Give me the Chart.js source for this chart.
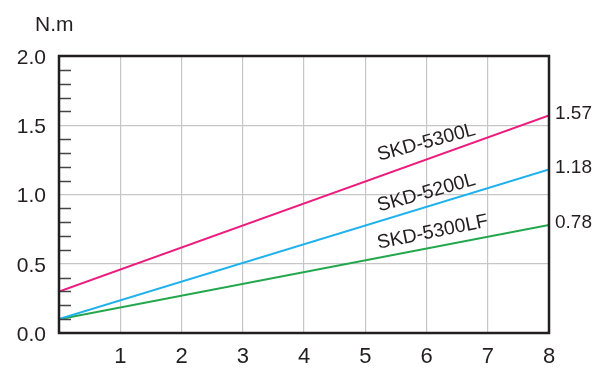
<!DOCTYPE html>
<html>
<head>
<meta charset="utf-8">
<script src="https://cdn.jsdelivr.net/npm/chart.js@4/dist/chart.umd.min.js"></script>
<style>
  html, body { margin: 0; padding: 0; background: #fff; }
  #wrap { width: 605px; height: 372px; }
</style>
</head>
<body>
<div id="wrap"><canvas id="torqueChart"></canvas></div>
<script>
// speed axis (0..8) and torque values at both ends of each line
const xValues = [0, 8];
const skd5300L = [0.30, 1.57];
const skd5200L = [0.10, 1.18];
const skd5300LF = [0.10, 0.78];
const seriesNames = ["SKD-5300L", "SKD-5200L", "SKD-5300LF"];
const yTicks = [0, 0.5, 1.0, 1.5, 2.0];
const xTicks = [1, 2, 3, 4, 5, 6, 7, 8];
const endValues = [skd5300L[1], skd5200L[1], skd5300LF[1]];

const toPoints = (ys) => xValues.map((x, i) => ({ x: x, y: ys[i] }));

const frameColor = "#231f20";
const gridColor = "#c6c6c6";
const fontFamily = "'Liberation Sans', Arial, sans-serif";

// border, minor ticks, unit label and rotated series names
const decorPlugin = {
    id: 'decor',
    afterDatasetsDraw(chart) {
        const ctx = chart.ctx;
        const area = chart.chartArea;
        const yScale = chart.scales.y;
        const xScale = chart.scales.x;
        ctx.save();

        // minor ticks on the left axis every 0.1
        ctx.strokeStyle = "#444";
        ctx.lineWidth = 1.5;
        for (let v = 1; v < 20; v++) {
            if (v % 5 === 0) continue;
            const py = Math.round(yScale.getPixelForValue(v / 10)) + 0.5;
            ctx.beginPath();
            ctx.moveTo(area.left, py);
            ctx.lineTo(area.left + 12, py);
            ctx.stroke();
        }

        // frame
        ctx.strokeStyle = frameColor;
        ctx.lineWidth = 2.5;
        ctx.strokeRect(area.left, area.top, area.right - area.left, area.bottom - area.top);

        // unit
        ctx.fillStyle = "#231f20";
        ctx.font = "21px " + fontFamily;
        ctx.textAlign = "left";
        ctx.textBaseline = "middle";
        ctx.fillText("N.m", 35, 25);

        // series names along the lines
        const labelSpecs = [
            { data: skd5300L, atX: 6.0, above: 17, angle: -15 },
            { data: skd5200L, atX: 6.0, above: 14, angle: -15.5 },
            { data: skd5300LF, atX: 6.1, above: 15, angle: -11.5 }
        ];
        ctx.font = "19.5px " + fontFamily;
        ctx.textAlign = "center";
        ctx.textBaseline = "middle";
        labelSpecs.forEach((s, i) => {
            const yv = s.data[0] + (s.data[1] - s.data[0]) * (s.atX - xValues[0]) / (xValues[1] - xValues[0]);
            const px = xScale.getPixelForValue(s.atX);
            const py = yScale.getPixelForValue(yv) - s.above;
            ctx.save();
            ctx.translate(px, py);
            ctx.rotate(s.angle * Math.PI / 180);
            ctx.fillText(seriesNames[i], 0, 0);
            ctx.restore();
        });
        ctx.restore();
    }
};

const ctx = document.getElementById("torqueChart").getContext('2d');
const torqueChart = new Chart(ctx, {
    type: 'line',
    data: {
        datasets: [
            { label: seriesNames[0], data: toPoints(skd5300L), borderColor: "#ec1c7d", borderWidth: 2 },
            { label: seriesNames[1], data: toPoints(skd5200L), borderColor: "#1eb1ec", borderWidth: 2 },
            { label: seriesNames[2], data: toPoints(skd5300LF), borderColor: "#22a74c", borderWidth: 2 }
        ]
    },
    options: {
        responsive: true,
        maintainAspectRatio: false,
        animation: false,
        layout: { padding: { top: 56, left: 0, right: 0, bottom: 0 } },
        elements: { point: { radius: 0 }, line: { tension: 0 } },
        plugins: {
            legend: { display: false },
            tooltip: { enabled: false }
        },
        scales: {
            x: {
                type: 'linear',
                min: 0,
                max: 8,
                afterBuildTicks: (axis) => { axis.ticks = xTicks.map(v => ({ value: v })); },
                afterFit: (axis) => { axis.height = 39; },
                border: { display: false },
                grid: {
                    color: (c) => (c.tick && c.tick.value > 0 && c.tick.value < 8) ? gridColor : 'rgba(0,0,0,0)',
                    lineWidth: 1.2,
                    drawTicks: false
                },
                ticks: {
                    color: "#231f20",
                    padding: 11,
                    font: { size: 22, family: fontFamily },
                    callback: (v) => String(v)
                }
            },
            y: {
                position: 'left',
                min: 0,
                max: 2,
                afterBuildTicks: (axis) => { axis.ticks = yTicks.map(v => ({ value: v })); },
                afterFit: (axis) => { axis.width = 59; },
                border: { display: false },
                grid: {
                    color: (c) => (c.tick && c.tick.value > 0 && c.tick.value < 2) ? gridColor : 'rgba(0,0,0,0)',
                    lineWidth: 1.2,
                    drawTicks: false
                },
                ticks: {
                    color: "#231f20",
                    padding: 13,
                    labelOffset: 2,
                    font: { size: 21, family: fontFamily },
                    callback: (v) => Number(v).toFixed(1)
                }
            },
            yEnd: {
                position: 'right',
                min: 0,
                max: 2,
                afterBuildTicks: (axis) => { axis.ticks = endValues.map(v => ({ value: v })); },
                afterFit: (axis) => { axis.width = 56; },
                border: { display: false },
                grid: { display: false, drawTicks: false },
                ticks: {
                    color: "#231f20",
                    padding: 6,
                    labelOffset: -2,
                    font: { size: 19, family: fontFamily },
                    callback: (v) => Number(v).toFixed(2)
                }
            }
        }
    },
    plugins: [decorPlugin]
});
</script>
</body>
</html>
